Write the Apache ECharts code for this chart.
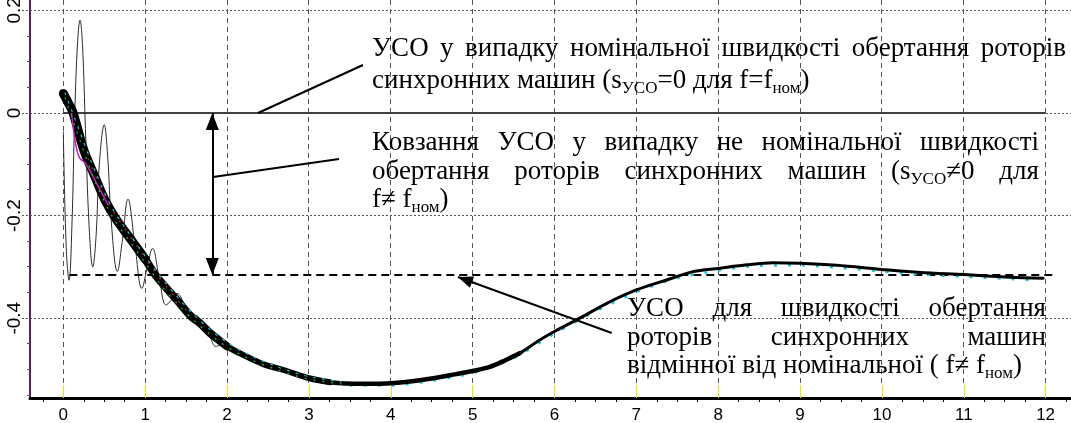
<!DOCTYPE html>
<html lang="uk">
<head>
<meta charset="utf-8">
<title>УСО: ковзання при номінальній і не номінальній швидкості обертання</title>
<style>
  html, body { margin: 0; padding: 0; background: #fff; }
  #chart { width: 1071px; height: 423px; }
</style>
<script src="https://cdn.jsdelivr.net/npm/echarts@6.0.0/dist/echarts.min.js"></script>
</head>
<body>
<div id="chart"></div>
<script>
// Slip of the equivalent synchronous machine (УСО) after a disturbance, 0..12 s.

// time axis (s) and slip axis tick labels
const xTickLabels = [0, 1, 2, 3, 4, 5, 6, 7, 8, 9, 10, 11, 12];
const yTickLabels = [0.2, 0, -0.2, -0.4];

// slip of the equivalent machine, bundle of rotor traces
const slipTime  = [0.00, 0.06, 0.12, 0.25, 0.38, 0.51, 0.65, 0.86, 1.00, 1.14, 1.39, 1.55, 1.67, 1.80, 2.00,
                   2.24, 2.45, 2.69, 3.00, 3.26, 3.66, 4.00, 4.40, 4.80, 5.00, 5.21, 5.40, 5.58, 5.82, 6.00,
                   6.31, 6.64, 7.00, 7.37, 7.70, 8.00, 8.35, 8.67, 9.00, 9.45, 10.00, 10.47, 11.00, 11.57, 11.97];
const slipValue = [0.038, 0.020, 0.000, -0.072, -0.122, -0.170, -0.208, -0.254, -0.285, -0.319, -0.365, -0.395, -0.410, -0.430, -0.455,
                   -0.475, -0.490, -0.501, -0.517, -0.525, -0.528, -0.527, -0.520, -0.509, -0.503, -0.495, -0.482, -0.468, -0.4425, -0.426,
                   -0.400, -0.371, -0.345, -0.3255, -0.309, -0.303, -0.296, -0.292, -0.293, -0.297, -0.305, -0.311, -0.315, -0.320, -0.322];

// individual coloured rotor traces visible inside the bundle
const traceMagentaTime  = [0.10, 0.15, 0.20, 0.27, 0.35, 0.45, 0.55];
const traceMagentaValue = [0.000, -0.060, -0.088, -0.098, -0.120, -0.150, -0.180];
const traceCyanTime  = [0.02, 0.20, 0.40, 0.60, 0.80, 1.00, 1.20, 1.40, 1.60, 1.90, 2.20, 2.60, 3.00, 3.40];
const traceCyanValue = [0.040, -0.036, -0.118, -0.186, -0.234, -0.279, -0.322, -0.360, -0.394, -0.436, -0.466, -0.494, -0.514, -0.524];
const traceGreenTime  = [0.02, 0.20, 0.40, 0.60, 0.80, 1.00, 1.20, 1.40, 1.60, 1.90, 2.20, 2.60, 3.00, 3.40];
const traceGreenValue = [0.030, -0.052, -0.138, -0.202, -0.248, -0.292, -0.337, -0.373, -0.405, -0.445, -0.474, -0.500, -0.519, -0.528];
const traceRedTime  = [0.30, 0.50, 0.70, 0.90, 1.10, 1.30, 1.50];
const traceRedValue = [-0.088, -0.160, -0.214, -0.259, -0.306, -0.346, -0.384];
const traceCyanLateTime  = [3.5, 4.0, 4.5, 5.0, 5.5, 6.0, 6.5, 7.0, 7.5, 8.0, 8.5, 9.0, 9.5, 10.0, 10.5, 11.0, 11.5, 11.9];
const traceCyanLateValue = [-0.531, -0.531, -0.522, -0.507, -0.478, -0.430, -0.387, -0.349, -0.322, -0.307, -0.298, -0.297,
                            -0.302, -0.309, -0.315, -0.319, -0.323, -0.326];

// single machine with oscillating start-up
const oscTime  = [0.000, 0.035, 0.070, 0.105, 0.140, 0.175, 0.204, 0.235, 0.270, 0.315, 0.360, 0.400, 0.440, 0.500, 0.540,
                  0.590, 0.660, 0.720, 0.790, 0.870, 0.960, 1.020, 1.090, 1.170, 1.255, 1.320, 1.390, 1.470, 1.550, 1.620,
                  1.680, 1.740, 1.800, 1.860, 1.950];
const oscValue = [-0.036, -0.260, -0.326, -0.220, 0.000, 0.140, 0.181, 0.130, -0.030, -0.220, -0.300, -0.240, -0.100, -0.023, -0.080,
                  -0.220, -0.309, -0.250, -0.168, -0.250, -0.342, -0.305, -0.264, -0.320, -0.374, -0.365, -0.352, -0.370, -0.400, -0.395,
                  -0.405, -0.430, -0.440, -0.455, -0.450];

// reference levels
const nominalLevel = 0;           // s = 0 for f = f_nom
const nominalSpan = [0, 12];
const offNominalLevel = -0.316;   // s != 0 for f != f_nom
const offNominalSpan = [0.073, 12.13];

// annotation anchors in axis units
const slipArrowTime = 1.82;
const leaderNominal = [[2.378, 0], [3.661, 0.0936]];
const leaderSlip = [[1.829, -0.1248], [3.368, -0.0897]];
const arrowOffNominal = [[6.70, -0.4288], [4.82, -0.3197]];

// annotation texts; _{...} marks a subscript
const noteNominal = [
  'УСО у випадку номінальної швидкості обертання роторів',
  'синхронних машин (s_{УСО}=0 для f=f_{ном})'
];
const noteSlip = [
  'Ковзання УСО у випадку не номінальної швидкості',
  'обертання роторів синхронних машин (s_{УСО}≠0 для',
  'f≠ f_{ном})'
];
const noteOffNominal = [
  'УСО для швидкості обертання',
  'роторів синхронних машин',
  'відмінної від номінальної ( f≠ f_{ном})'
];

// -------------------------------------------------------------- layout ---
const X_MIN = -0.407, X_MAX = 12.31;
const Y_MIN = -0.5556, Y_MAX = 0.2203;
const X_TICK_OUT = -0.505;   // horizontal grid lines run a little past the slip axis

const xMinorTicks = [];
for (let q = -1; q <= 49; q++) { if (q % 4 !== 0) xMinorTicks.push(q / 4); }
const yMinorTicks = [];
for (let k = -11; k <= 4; k++) { if (k % 4 !== 0) yMinorTicks.push(k / 20); }

const SERIF = '"Liberation Serif", "Times New Roman", serif';
const MAIN_SIZE = 27, SUB_SIZE = 17, SUB_DROP = 5;
const MAIN_FONT = MAIN_SIZE + 'px ' + SERIF;
const SUB_FONT = SUB_SIZE + 'px ' + SERIF;

const measure = document.createElement('canvas').getContext('2d');
function textWidth(str, font) { measure.font = font; return measure.measureText(str).width; }
function middleToBaseline(font) {
  measure.font = font;
  measure.textBaseline = 'middle';
  const d = measure.measureText('Н').actualBoundingBoxDescent;
  measure.textBaseline = 'alphabetic';
  return d;
}
const MAIN_SHIFT = middleToBaseline(MAIN_FONT);
const SUB_SHIFT = middleToBaseline(SUB_FONT);

function parseWord(w) {
  const segs = [];
  const re = /_\{([^}]*)\}/g;
  let last = 0, m;
  while ((m = re.exec(w))) {
    if (m.index > last) segs.push({ t: w.slice(last, m.index), sub: false });
    segs.push({ t: m[1], sub: true });
    last = re.lastIndex;
  }
  if (last < w.length) segs.push({ t: w.slice(last), sub: false });
  return segs;
}
function segWidth(s) { return textWidth(s.t, s.sub ? SUB_FONT : MAIN_FONT); }

// justified paragraph: every line but the last is stretched to the full width
function paragraph(lines, left, right, firstBaseline, lineGap) {
  const els = [];
  const space = textWidth(' ', MAIN_FONT);
  lines.forEach((line, i) => {
    const words = line.split(' ').map(parseWord);
    const widths = words.map(ws => ws.reduce((a, s) => a + segWidth(s), 0));
    const total = widths.reduce((a, b) => a + b, 0);
    const isLast = i === lines.length - 1;
    const gap = (!isLast && words.length > 1) ? (right - left - total) / (words.length - 1) : space;
    const base = firstBaseline + i * lineGap;
    let x = left;
    words.forEach(ws => {
      ws.forEach(s => {
        els.push({
          type: 'text', silent: true, z: 100,
          x: x,
          y: s.sub ? base + SUB_DROP - SUB_SHIFT : base - MAIN_SHIFT,
          style: {
            text: s.t, fontFamily: SERIF, fontSize: s.sub ? SUB_SIZE : MAIN_SIZE,
            fill: '#000', align: 'left', verticalAlign: 'middle'
          }
        });
        x += segWidth(s);
      });
      x += gap;
    });
  });
  return els;
}

const textElements = [].concat(
  paragraph(noteNominal, 372, 1066, 56, 32),
  paragraph(noteSlip, 372, 1039, 150, 28.5),
  paragraph(noteOffNominal, 627, 1046, 316, 28.5)
);

// ------------------------------------------------------------- series ---
const zip = (ts, vs) => ts.map((t, i) => [t, vs[i]]);
const slipPoints = zip(slipTime, slipValue);
const span = (a, b) => slipPoints.filter(p => p[0] >= a && p[0] <= b);

function lineSeries(data, lineStyle, extra) {
  return Object.assign({
    type: 'line', data: data, symbol: 'none', showSymbol: false, silent: true, smooth: 0.3,
    lineStyle: lineStyle, z: 3
  }, extra || {});
}

const series = [
  lineSeries(zip(nominalSpan, nominalSpan.map(() => nominalLevel)), { color: '#404040', width: 2 }, { smooth: false, z: 2 }),
  lineSeries(zip(offNominalSpan, offNominalSpan.map(() => offNominalLevel)),
    { color: '#000', width: 2, type: [8, 5] }, { smooth: false, z: 2 }),
  lineSeries(zip(oscTime, oscValue), { color: '#2a2a2a', width: 1 }, { smooth: 0.4, z: 3 }),
  lineSeries(zip(traceCyanLateTime, traceCyanLateValue), { color: '#19c8d8', width: 2.5, type: [3, 11] }, { z: 3 })
];

// the bundle gets thinner as the individual traces converge
const bundleSegments = [
  [0.00, 1.00, 9], [0.86, 2.00, 8], [1.80, 3.26, 6], [3.00, 5.58, 4.5], [5.40, 12.0, 3]
];
bundleSegments.forEach(([a, b, w]) => series.push(lineSeries(span(a, b),
  { color: '#000', width: w, cap: 'round', join: 'round' }, { z: 4 })));

series.push(
  lineSeries(zip(traceMagentaTime, traceMagentaValue), { color: '#c020c0', width: 1.5 }, { z: 5 }),
  lineSeries(zip(traceCyanTime, traceCyanValue), { color: '#20c0d0', width: 1.2, type: [3, 6] }, { z: 5 }),
  lineSeries(zip(traceGreenTime, traceGreenValue), { color: '#30c030', width: 1.2, type: [2, 7] }, { z: 5 }),
  lineSeries(zip(traceRedTime, traceRedValue), { color: '#d02020', width: 1.2, type: [2, 8] }, { z: 5 })
);

// arrows and leader lines
const head = (size) => ({ symbol: 'triangle', symbolSize: size, symbolOffset: [0, '50%'] });
series.push({
  type: 'line', data: [], silent: true, z: 6,
  markLine: {
    silent: true, animation: false, symbol: 'none', label: { show: false },
    lineStyle: { color: '#000', width: 2, type: 'solid' },
    data: [
      [Object.assign({ coord: [slipArrowTime, nominalLevel] }, head([13, 17])),
       Object.assign({ coord: [slipArrowTime, offNominalLevel] }, head([13, 17]))],
      [{ coord: leaderNominal[0], symbol: 'none' }, { coord: leaderNominal[1], symbol: 'none' }],
      [{ coord: leaderSlip[0], symbol: 'none' }, { coord: leaderSlip[1], symbol: 'none' }],
      [{ coord: arrowOffNominal[0], symbol: 'none' },
       Object.assign({ coord: arrowOffNominal[1] }, head([12, 15]))]
    ]
  }
});

// --------------------------------------------------------------- chart ---
const chart = echarts.init(document.getElementById('chart'));
chart.setOption({
  animation: false,
  grid: { left: 30, right: 0, top: 0, bottom: 25, containLabel: false, outerBoundsMode: 'none' },
  xAxis: [
    {
      type: 'value', min: X_MIN, max: X_MAX, position: 'bottom',
      axisLine: { show: true, onZero: false, lineStyle: { color: '#000', width: 3 } },
      axisTick: { show: true, inside: true, customValues: xTickLabels, length: 13, lineStyle: { color: '#e6e600', width: 1 } },
      axisLabel: {
        customValues: xTickLabels, color: '#000', margin: 9,
        fontFamily: '"Liberation Sans", Arial, sans-serif', fontSize: 17
      },
      splitLine: { show: false }
    },
    {
      type: 'value', min: X_MIN, max: X_MAX, position: 'bottom',
      axisLine: { show: false, onZero: false },
      axisTick: { show: true, customValues: xMinorTicks, length: 4, lineStyle: { color: '#000', width: 1 } },
      axisLabel: { show: false },
      splitLine: { show: false }
    }
  ],
  yAxis: [
    {
      type: 'value', min: Y_MIN, max: Y_MAX, position: 'left',
      axisLine: { show: true, onZero: false, lineStyle: { color: '#5b1f5f', width: 2 } },
      axisTick: { show: false, customValues: yTickLabels },
      axisLabel: {
        customValues: yTickLabels, rotate: 90, margin: 6, color: '#000',
        fontFamily: '"Liberation Sans", Arial, sans-serif', fontSize: 19,
        formatter: v => (Math.abs(v) < 1e-9 ? '0' : v.toFixed(1))
      },
      splitLine: { show: false }
    }
  ],
  series: series
});

// coordinate grid placed through the axis scales: dashed verticals at whole
// seconds, dotted horizontals at labelled slip values, small ticks every 0.05
const px = v => chart.convertToPixel({ xAxisIndex: 0 }, v);
const py = v => chart.convertToPixel({ yAxisIndex: 0 }, v);
const crisp = p => Math.round(p - 0.5) + 0.5;
const gridTop = py(Y_MAX), gridBottom = py(Y_MIN), gridLeft = px(X_MIN), gridRight = px(X_MAX);

const gridElements = [];
xTickLabels.forEach(v => {
  const x = crisp(px(v));
  gridElements.push({
    type: 'line', silent: true, z: 1,
    shape: { x1: x, y1: gridTop, x2: x, y2: gridBottom - 14 },
    style: { stroke: '#555555', lineWidth: 1, lineDash: [5, 4] }
  });
});
yTickLabels.forEach(v => {
  const y = crisp(py(v));
  gridElements.push({
    type: 'line', silent: true, z: 1,
    shape: { x1: px(X_TICK_OUT), y1: y, x2: gridRight, y2: y },
    style: { stroke: '#555555', lineWidth: 1, lineDash: [2, 2] }
  });
});
yMinorTicks.forEach(v => {
  const y = crisp(py(v));
  gridElements.push({
    type: 'line', silent: true, z: 1,
    shape: { x1: gridLeft - 3, y1: y, x2: gridLeft, y2: y },
    style: { stroke: '#555555', lineWidth: 1 }
  });
});

chart.setOption({ graphic: gridElements.concat(textElements) });
</script>
</body>
</html>
